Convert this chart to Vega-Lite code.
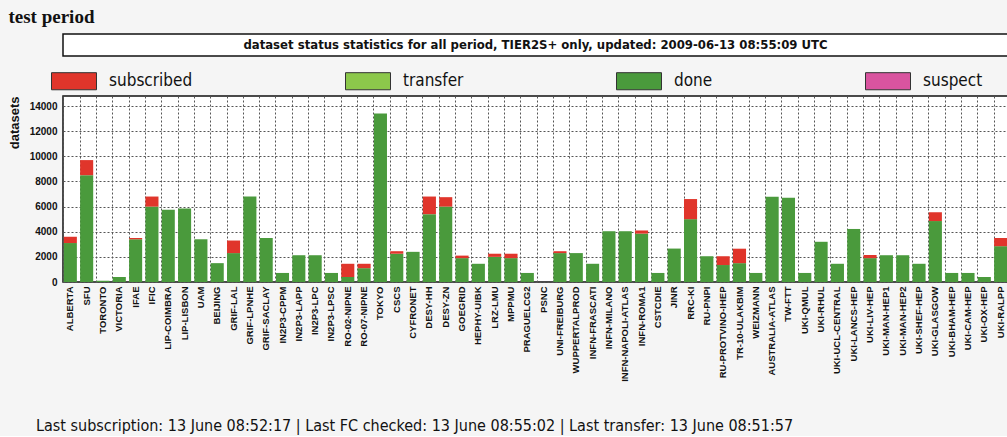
{
  "$schema": "https://vega.github.io/schema/vega-lite/v6.json",
  "background": "#f5f5f5",
  "padding": {"left": 7, "top": 8, "right": 0, "bottom": 0},
  "title": {"text": "test period", "anchor": "start", "font": "Liberation Serif", "fontSize": 19, "fontWeight": "bold", "color": "#111", "offset": 6, "dx": 1},
  "spacing": 0,
  "vconcat": [
    {
      "width": 945,
      "height": 22,
      "view": {"fill": "#ffffff", "stroke": "#111", "strokeWidth": 1.5},
      "data": {"values": [{"label": "dataset status statistics for all period, TIER2S+ only, updated: 2009-06-13 08:55:09 UTC"}]},
      "mark": {"type": "text", "font": "Liberation Sans Narrow, DejaVu Sans Condensed, Liberation Sans", "fontSize": 13, "fontWeight": "bold", "color": "#111"},
      "encoding": {"text": {"field": "label"}}
    },
    {
      "width": 945,
      "height": 186,
      "view": {"fill": "#ffffff", "stroke": "#111", "strokeWidth": 1.5},
      "data": {"values": [
        {"site": "ALBERTA", "done": 3100, "subscribed": 500},
        {"site": "SFU", "done": 8500, "subscribed": 1200},
        {"site": "TORONTO", "done": 100, "subscribed": 0},
        {"site": "VICTORIA", "done": 400, "subscribed": 0},
        {"site": "IFAE", "done": 3400, "subscribed": 100},
        {"site": "IFIC", "done": 6000, "subscribed": 800},
        {"site": "LIP-COIMBRA", "done": 5750, "subscribed": 0},
        {"site": "LIP-LISBON", "done": 5850, "subscribed": 0},
        {"site": "UAM", "done": 3400, "subscribed": 0},
        {"site": "BEIJING", "done": 1500, "subscribed": 0},
        {"site": "GRIF-LAL", "done": 2300, "subscribed": 1000},
        {"site": "GRIF-LPNHE", "done": 6800, "subscribed": 0},
        {"site": "GRIF-SACLAY", "done": 3500, "subscribed": 0},
        {"site": "IN2P3-CPPM", "done": 720, "subscribed": 0},
        {"site": "IN2P3-LAPP", "done": 2130, "subscribed": 0},
        {"site": "IN2P3-LPC", "done": 2130, "subscribed": 0},
        {"site": "IN2P3-LPSC", "done": 720, "subscribed": 0},
        {"site": "RO-02-NIPNE", "done": 400, "subscribed": 1050},
        {"site": "RO-07-NIPNE", "done": 1100, "subscribed": 350},
        {"site": "TOKYO", "done": 13400, "subscribed": 0},
        {"site": "CSCS", "done": 2250, "subscribed": 200},
        {"site": "CYFRONET", "done": 2400, "subscribed": 0},
        {"site": "DESY-HH", "done": 5400, "subscribed": 1400},
        {"site": "DESY-ZN", "done": 6000, "subscribed": 750},
        {"site": "GOEGRID", "done": 1900, "subscribed": 200},
        {"site": "HEPHY-UIBK", "done": 1450, "subscribed": 0},
        {"site": "LRZ-LMU", "done": 2000, "subscribed": 250},
        {"site": "MPPMU", "done": 1900, "subscribed": 350},
        {"site": "PRAGUELCG2", "done": 720, "subscribed": 0},
        {"site": "PSNC", "done": 0, "subscribed": 0},
        {"site": "UNI-FREIBURG", "done": 2300, "subscribed": 150},
        {"site": "WUPPERTALPROD", "done": 2300, "subscribed": 0},
        {"site": "INFN-FRASCATI", "done": 1450, "subscribed": 0},
        {"site": "INFN-MILANO", "done": 4040, "subscribed": 0},
        {"site": "INFN-NAPOLI-ATLAS", "done": 4040, "subscribed": 0},
        {"site": "INFN-ROMA1", "done": 3850, "subscribed": 250},
        {"site": "CSTCDIE", "done": 720, "subscribed": 0},
        {"site": "JINR", "done": 2660, "subscribed": 0},
        {"site": "RRC-KI", "done": 5000, "subscribed": 1600},
        {"site": "RU-PNPI", "done": 2050, "subscribed": 0},
        {"site": "RU-PROTVINO-IHEP", "done": 1350, "subscribed": 700},
        {"site": "TR-10-ULAKBIM", "done": 1500, "subscribed": 1150},
        {"site": "WEIZMANN", "done": 720, "subscribed": 0},
        {"site": "AUSTRALIA-ATLAS", "done": 6780, "subscribed": 0},
        {"site": "TW-FTT", "done": 6700, "subscribed": 0},
        {"site": "UKI-QMUL", "done": 720, "subscribed": 0},
        {"site": "UKI-RHUL", "done": 3200, "subscribed": 0},
        {"site": "UKI-UCL-CENTRAL", "done": 1450, "subscribed": 0},
        {"site": "UKI-LANCS-HEP", "done": 4220, "subscribed": 0},
        {"site": "UKI-LIV-HEP", "done": 1900, "subscribed": 250},
        {"site": "UKI-MAN-HEP1", "done": 2130, "subscribed": 0},
        {"site": "UKI-MAN-HEP2", "done": 2130, "subscribed": 0},
        {"site": "UKI-SHEF-HEP", "done": 1450, "subscribed": 0},
        {"site": "UKI-GLASGOW", "done": 4850, "subscribed": 700},
        {"site": "UKI-BHAM-HEP", "done": 720, "subscribed": 0},
        {"site": "UKI-CAM-HEP", "done": 720, "subscribed": 0},
        {"site": "UKI-OX-HEP", "done": 400, "subscribed": 0},
        {"site": "UKI-RALPP", "done": 2850, "subscribed": 650}
      ]},
      "transform": [{"fold": ["done", "subscribed"], "as": ["status", "n"]}],
      "title": {"text": "Last subscription: 13 June 08:52:17  |  Last FC checked: 13 June 08:55:02   |   Last transfer: 13 June 08:51:57", "orient": "bottom", "anchor": "start", "frame": "group", "dx": -27, "offset": 37, "font": "Liberation Sans Narrow, DejaVu Sans Condensed, Liberation Sans", "fontSize": 16, "fontWeight": "normal", "color": "#111"},
      "mark": {"type": "bar"},
      "encoding": {
        "x": {"field": "site", "type": "nominal", "sort": null,
          "scale": {"paddingInner": 0.2, "paddingOuter": 0.05},
          "axis": {"title": null, "labelAngle": -90, "labelFont": "Liberation Sans", "labelFontSize": 9.5, "labelFontWeight": "bold", "labelColor": "#111", "labelPadding": 4, "bandPosition": 0, "grid": true, "gridColor": "#555", "gridDash": [2, 2], "gridWidth": 1, "ticks": false, "domain": false, "labelBound": false, "labelOverlap": false}},
        "y": {"field": "n", "type": "quantitative", "stack": "zero",
          "scale": {"domain": [0, 14800], "nice": false, "zero": true},
          "axis": {"title": "datasets", "titleAnchor": "end", "titleFont": "Liberation Sans", "titleFontSize": 13, "titleFontWeight": "bold", "titleColor": "#111", "titlePadding": 8, "values": [0, 2000, 4000, 6000, 8000, 10000, 12000, 14000], "format": "d", "labelFont": "Liberation Sans", "labelFontSize": 10, "labelFontWeight": "bold", "labelColor": "#111", "tickSize": 0, "labelPadding": 6, "domain": false, "grid": true, "gridColor": "#555", "gridDash": [2, 2], "gridWidth": 1}},
        "color": {"field": "status", "type": "nominal",
          "scale": {"domain": ["subscribed", "transfer", "done", "suspect"], "range": ["#e0352b", "#8cc84b", "#4a9a3c", "#d9549f"]},
          "legend": {"title": null, "orient": "none", "legendX": -12, "legendY": -38, "direction": "horizontal", "columns": 4, "columnPadding": 150, "symbolType": "M-1,-0.38H1V0.38H-1Z", "symbolSize": 2025, "symbolStrokeColor": "#333", "symbolStrokeWidth": 1, "symbolOpacity": 1, "labelFont": "Liberation Sans Narrow, DejaVu Sans Condensed, Liberation Sans", "labelFontSize": 17, "labelColor": "#111", "labelOffset": 12, "labelLimit": 200}},
        "order": {"field": "status", "sort": "ascending"}
      }
    }
  ],
  "resolve": {"scale": {"color": "independent"}, "legend": {"color": "independent"}}
}
